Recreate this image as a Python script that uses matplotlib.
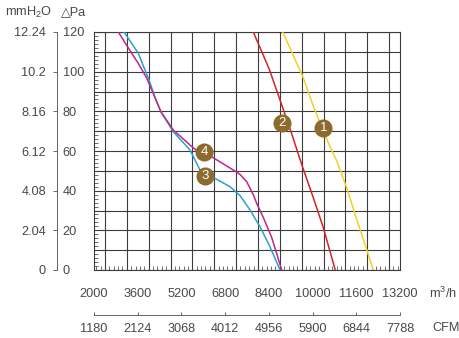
import matplotlib
matplotlib.use('Agg')
import matplotlib.pyplot as plt
from matplotlib.ticker import MultipleLocator

plt.rcParams['font.family'] = ['Liberation Sans', 'DejaVu Sans']
plt.rcParams['mathtext.fontset'] = 'custom'
plt.rcParams['mathtext.rm'] = 'Liberation Sans'

# pressure ticks (Pa) and the matching mmH2O labels
pa_ticks = [0, 20, 40, 60, 80, 100, 120]
mmh2o_labels = ['0', '2.04', '4.08', '6.12', '8.16', '10.2', '12.24']
# airflow ticks (m3/h) and CFM labels
flow_ticks = [2000, 3600, 5200, 6800, 8400, 10000, 11600, 13200]
cfm_labels = ['1180', '2124', '3068', '4012', '4956', '5900', '6844', '7788']

# curves: airflow (m3/h) vs static pressure (Pa)
c1_x = [8906, 9236, 9660, 10026, 10575, 10882, 11248, 11614, 11919, 12222]
c1_y = [120, 109.9, 96.9, 82.6, 64.2, 55.0, 41.5, 25.6, 13.0, 0]
c2_x = [7830, 8416, 8928, 9236, 9602, 10026, 10392, 10830]
c2_y = [120, 101.2, 81.0, 68.7, 53.2, 36.5, 21.4, 0]
c3_x = [3098, 3621, 3768, 3987, 4269, 4452, 4902, 5514, 5880, 6429, 6978, 7344, 7710, 8076, 8442, 8808]
c3_y = [120, 109.3, 104.2, 96.8, 85.7, 79.7, 69.7, 60.5, 50.4, 46.2, 42.0, 37.5, 30.3, 21.8, 11.7, 0]
c4_x = [2889, 3380, 3621, 3929, 4269, 4452, 4902, 5514, 5733, 6319, 7098, 7344, 7589, 7830, 7955, 8196, 8504, 8870]
c4_y = [120, 109.3, 104.2, 96.8, 85.7, 79.7, 70.6, 63.0, 60.5, 57.0, 50.4, 48.2, 44.5, 38.0, 33.6, 26.5, 16.4, 0]

# numbered badges
badge_nums = ['1', '2', '3', '4']
badge_x = [10392, 8867, 6063, 6026]
badge_y = [71.7, 74.2, 47.3, 59.4]

W, H = 460, 338
fig = plt.figure(figsize=(4.6, 3.38), dpi=100)
txt = '#484848'
fs = 9.2

l, b, w, h = 94/W, (H-270)/H, 306/W, 238/H
ax = fig.add_axes([l, b, w, h])
ax.set_xlim(2000, 13200)
ax.set_ylim(0, 120)
ax.xaxis.set_major_locator(MultipleLocator(800))
ax.yaxis.set_major_locator(MultipleLocator(10))
ax.xaxis.set_minor_locator(MultipleLocator(160))
ax.yaxis.set_minor_locator(MultipleLocator(2))
ax.grid(True, which='major', color='#3c3c3c', lw=0.8)
ax.tick_params(which='major', length=0, labelleft=False, labelbottom=False)
ax.tick_params(which='minor', direction='in', length=3, width=0.6, color='#555555')
for s in ax.spines.values():
    s.set_color('#3c3c3c')
    s.set_linewidth(0.8)

ax.plot(c1_x, c1_y, color='#f4d02a', lw=1.1, zorder=3)
ax.plot(c2_x, c2_y, color='#d2232a', lw=1.1, zorder=3)
ax.plot(c3_x, c3_y, color='#2aa3cc', lw=1.1, zorder=3)
ax.plot(c4_x, c4_y, color='#c0268c', lw=1.1, zorder=3)

for n, x, y in zip(badge_nums, badge_x, badge_y):
    ax.plot(x, y, 'o', ms=13, color='#8c6b2e', mec='none', zorder=4)
    ax.text(x, y, n, color='white', fontsize=9.5, ha='center', va='center', zorder=5)

# m3/h labels below plot
ax2 = fig.add_axes([l, b, w, 0.0001])
ax2.set_xlim(2000, 13200)
ax2.set_xticks(flow_ticks)
ax2.set_xticklabels([str(v) for v in flow_ticks], fontsize=fs, color=txt)
ax2.tick_params(axis='x', length=0, pad=13)
ax2.set_yticks([])
for s in ax2.spines.values():
    s.set_visible(False)
ax2.patch.set_visible(False)

# CFM axis line
ax3 = fig.add_axes([l, (H-315)/H, w, 0.0001])
ax3.set_xlim(2000, 13200)
ax3.set_xticks(flow_ticks)
ax3.set_xticklabels(cfm_labels, fontsize=fs, color=txt)
ax3.tick_params(axis='x', direction='in', length=2.5, width=0.7, color='#666666', pad=6)
ax3.set_yticks([])
for k in ['top', 'left', 'right']:
    ax3.spines[k].set_visible(False)
ax3.spines['bottom'].set_color('#666666')
ax3.spines['bottom'].set_linewidth(0.7)
ax3.patch.set_visible(False)

# pressure axis line with mmH2O on the left and Pa on the right
axl = fig.add_axes([57/W, b, 0.0001, h])
axl.set_ylim(0, 120)
axl.set_yticks(pa_ticks)
axl.set_yticklabels(mmh2o_labels, fontsize=fs, color=txt)
axl.tick_params(axis='y', direction='out', length=3, width=0.7, color='#666666', pad=5)
axl.set_xticks([])
for k in ['top', 'bottom', 'right']:
    axl.spines[k].set_visible(False)
axl.spines['left'].set_color('#666666')
axl.spines['left'].set_linewidth(0.7)
axl.patch.set_visible(False)
axr = axl.twinx()
axr.set_ylim(0, 120)
axr.set_yticks(pa_ticks)
axr.set_yticklabels([str(v) for v in pa_ticks], fontsize=fs, color=txt)
axr.tick_params(axis='y', length=0, pad=4)
for s in axr.spines.values():
    s.set_visible(False)

fig.text(5/W, 1-12/H, 'mmH$_\\mathregular{2}$O', fontsize=fs, color=txt, va='center', ha='left')
fig.text(61/W, 1-12/H, '△Pa', fontsize=fs, color=txt, va='center', ha='left')
fig.text(429/W, 1-293/H, 'm$^\\mathregular{3}$/h', fontsize=fs, color=txt, va='center', ha='left')
fig.text(432/W, 1-328/H, 'CFM', fontsize=fs, color=txt, va='center', ha='left')

fig.savefig('out.png', dpi=100)
